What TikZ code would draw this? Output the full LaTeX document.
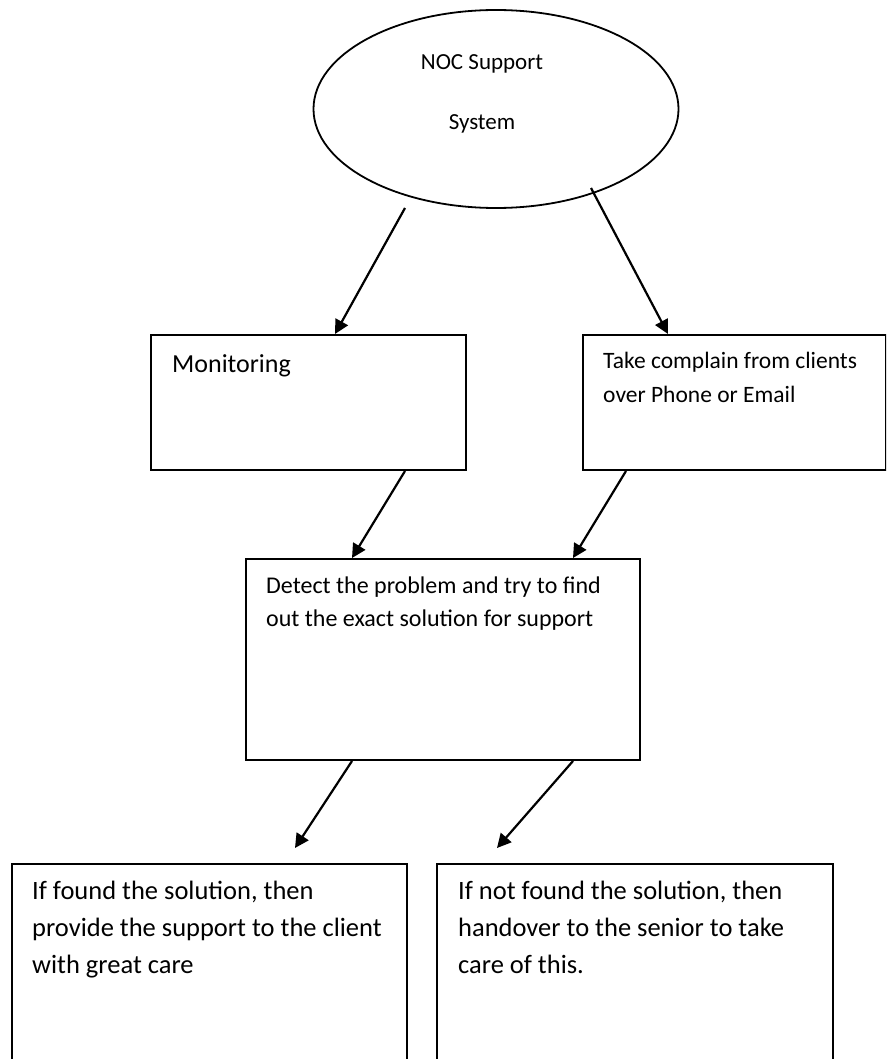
\documentclass[tikz,border=0pt]{standalone}
\usepackage{fontspec}
\setmainfont{Carlito}
\usetikzlibrary{arrows.meta,calc,shapes.geometric}
\begin{document}
\begin{tikzpicture}[x=1pt,y=-1pt,
  box/.style={draw,line width=2pt,rectangle,inner sep=0pt,anchor=north west},
  txt/.style={inner sep=0pt,anchor=base west,align=left},
  arr/.style={line width=2.2pt,-{Triangle[length=14pt,width=14pt]}}]
\useasboundingbox (0,0) rectangle (886,1059);
\clip (0,0) rectangle (886,1059);
% ellipse
\node[draw,ellipse,line width=1.8pt,minimum width=365pt,minimum height=198pt,inner sep=0pt] (sys) at (496,109) {};
\node[inner sep=0pt,anchor=base,align=center,font=\fontsize{23}{60}\selectfont] (systxt) at (482,130) {NOC Support\\System};
% boxes
\node[box,minimum width=303pt,minimum height=135pt] (cmp) at (582,334) {};
\node[box,minimum width=315pt,minimum height=135pt] (mon) at (150,334) {};
\node[box,minimum width=394pt,minimum height=201pt] (det) at (245,558) {};
\node[box,minimum width=395pt,minimum height=260pt] (fnd) at (11,863) {};
\node[box,minimum width=396pt,minimum height=260pt] (nfd) at (436,863) {};
% texts
\node[txt,font=\fontsize{26}{30}\selectfont] (montxt) at (172,372) {Monitoring};
\node[txt,font=\fontsize{23.5}{34}\selectfont] (cmptxt) at (603,402) {Take complain from clients\\over Phone or Email};
\node[txt,font=\fontsize{24}{33}\selectfont] (dettxt) at (266,626) {Detect the problem and try to find\\out the exact solution for support};
\node[txt,font=\fontsize{26.5}{37}\selectfont] (fndtxt) at (32,973) {If found the solution, then\\provide the support to the client\\with great care};
\node[txt,font=\fontsize{26.5}{37}\selectfont] (nfdtxt) at (458,973) {If not found the solution, then\\handover to the senior to take\\care of this.};
% connectors
\coordinate (a1s) at (405,208);
\coordinate (a2s) at (591,188);
\coordinate (a5e) at (295,848);
\coordinate (a6e) at (497,848);
\draw[arr] (a1s) -- ($(mon.north west)+(185,0)$);
\draw[arr] (a2s) -- ($(cmp.north west)+(86,0)$);
\draw[arr] ($(mon.south west)+(255,0)$) -- ($(det.north west)+(107,0)$);
\draw[arr] ($(cmp.south west)+(44,0)$) -- ($(det.north west)+(328,0)$);
\draw[arr] ($(det.south west)+(107,0)$) -- (a5e);
\draw[arr] ($(det.south west)+(328,0)$) -- (a6e);
\end{tikzpicture}
\end{document}
